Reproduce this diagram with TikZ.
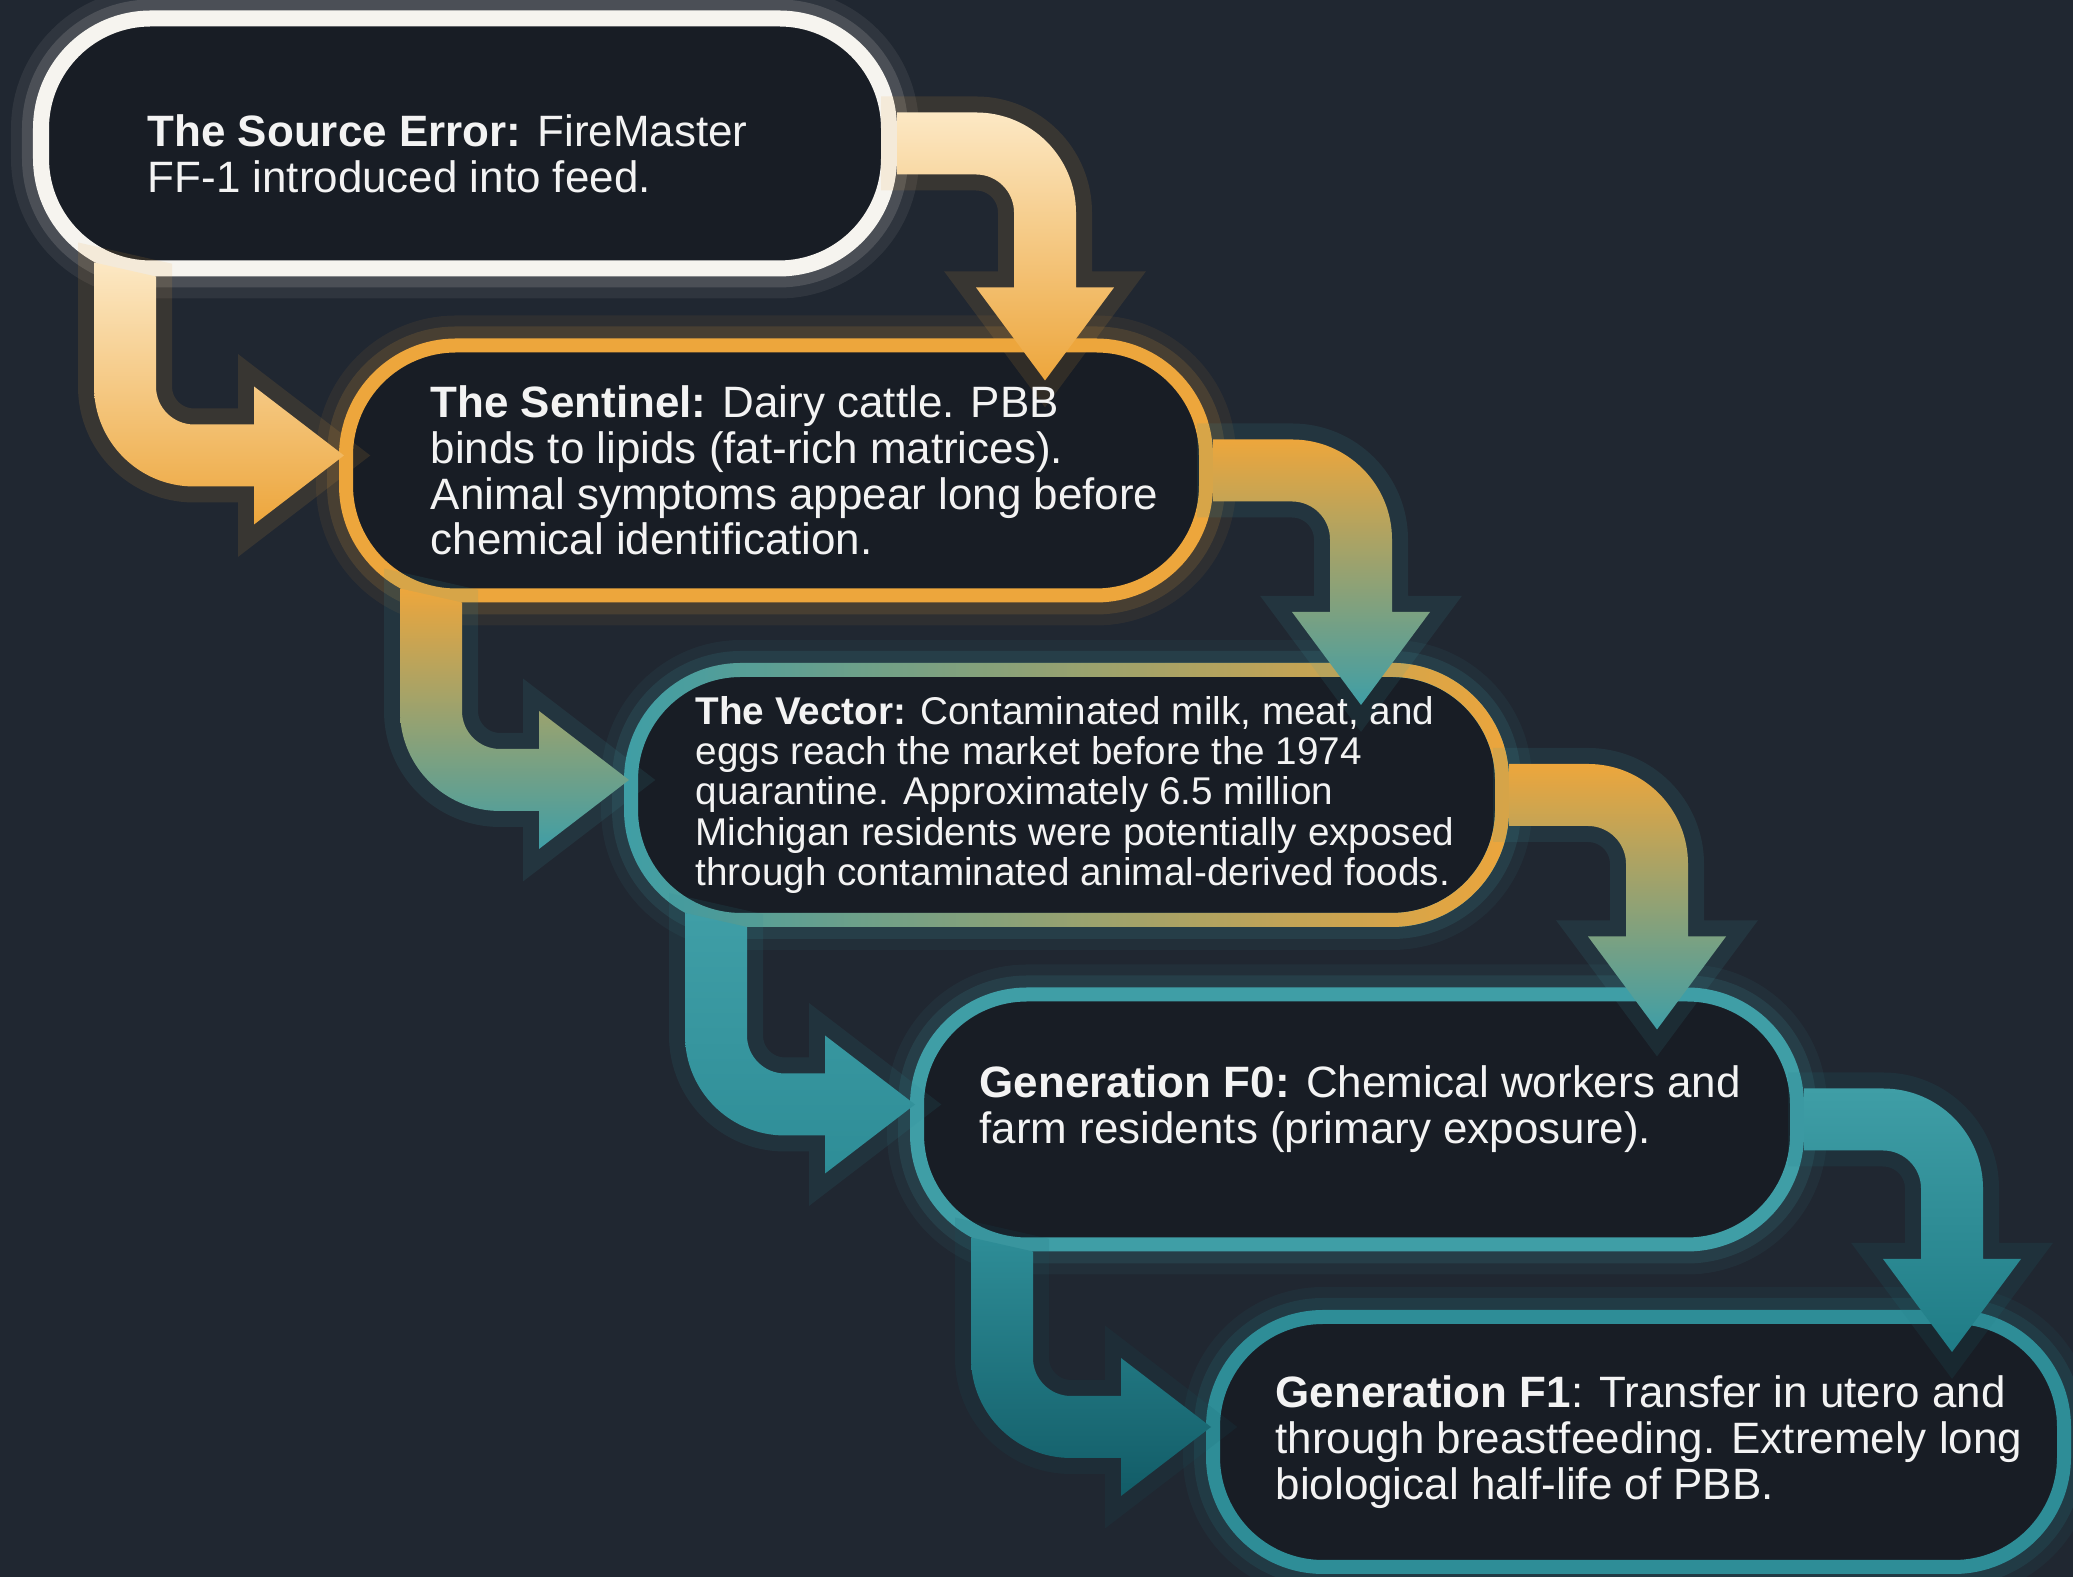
\documentclass[tikz,border=0pt]{standalone}
\usepackage{fontspec}
\setmainfont{Liberation Sans}
\usetikzlibrary{
  calc,
  fadings,
  positioning,
}
\definecolor{slate}{HTML}{202731}
\definecolor{pod}{HTML}{181D25}
\definecolor{chalk}{HTML}{F6F4EF}
\definecolor{cream}{HTML}{FCE8C4}
\definecolor{amber}{HTML}{EDA63C}
\definecolor{lagoon}{HTML}{3F9EA6}
\definecolor{reef}{HTML}{2E8D97}
\definecolor{deeplagoon}{HTML}{1F7C86}
\definecolor{abyss}{HTML}{125C67}
\definecolor{ink}{HTML}{F3F3F3}
\tikzset{
  stage/.style={draw=#1, fill=pod, line width=0.14cm, rounded corners=1.1cm,
    minimum height=2.5cm,
    preaction={draw=#1, line width=0.6cm, opacity=0.07},
    preaction={draw=#1, line width=0.38cm, opacity=0.14}},
  blurb/.style={inner sep=0pt, align=left, text=ink,
    font=\fontsize{12.5}{13}\selectfont},
  flow/.style 2 args={top color=#1, bottom color=#2, line join=round,
    preaction={draw=#2, line width=0.32cm, opacity=0.12}},
}
\newcommand{\bandhalf}{0.31cm}
\newcommand{\headhalf}{0.69cm}
\newcommand{\outrad}{1cm}
\newcommand{\inrad}{0.38cm}
\newcommand{\flowright}[4]{%
  \shade [flow={#3}{#4}] let \p1=(#1.east), \p2=(#2.north),
      \n1={\x1+1.48cm}, \n2={\y2-0.42cm}, \n3={\y2+0.51cm} in
    (\x1, {\y1+\bandhalf}) -- ({\n1+\bandhalf-\outrad}, {\y1+\bandhalf})
    .. controls ({\n1+\bandhalf-0.448*\outrad}, {\y1+\bandhalf}) and ({\n1+\bandhalf}, {\y1+\bandhalf-0.448*\outrad}) .. ({\n1+\bandhalf}, {\y1+\bandhalf-\outrad})
    -- ({\n1+\bandhalf}, \n3) -- ({\n1+\headhalf}, \n3) -- (\n1, \n2)
    -- ({\n1-\headhalf}, \n3) -- ({\n1-\bandhalf}, \n3)
    -- ({\n1-\bandhalf}, {\y1-\bandhalf-\inrad})
    .. controls ({\n1-\bandhalf}, {\y1-\bandhalf-0.448*\inrad}) and ({\n1-\bandhalf-0.448*\inrad}, {\y1-\bandhalf}) .. ({\n1-\bandhalf-\inrad}, {\y1-\bandhalf})
    -- (\x1, {\y1-\bandhalf}) -- cycle;
}
\newcommand{\flowleft}[4]{%
  \shade [flow={#3}{#4}] let \p1=(#1.south west), \p2=(#2.west),
      \n1={\x1+0.92cm}, \n2={\y2+0.15cm}, \n3={\x2-0.85cm} in
    ({\n1-\bandhalf}, {\y1+0.14cm}) -- ({\n1-\bandhalf}, {\n2-\bandhalf+\outrad})
    .. controls ({\n1-\bandhalf}, {\n2-\bandhalf+0.448*\outrad}) and ({\n1-\bandhalf+0.448*\outrad}, {\n2-\bandhalf}) .. ({\n1-\bandhalf+\outrad}, {\n2-\bandhalf})
    -- (\n3, {\n2-\bandhalf}) -- (\n3, {\n2-\headhalf}) -- ({\x2+0.05cm}, \n2)
    -- (\n3, {\n2+\headhalf}) -- (\n3, {\n2+\bandhalf})
    -- ({\n1+\bandhalf+\inrad}, {\n2+\bandhalf})
    .. controls ({\n1+\bandhalf+0.448*\inrad}, {\n2+\bandhalf}) and ({\n1+\bandhalf}, {\n2+\bandhalf+0.448*\inrad}) .. ({\n1+\bandhalf}, {\n2+\bandhalf+\inrad})
    -- ({\n1+\bandhalf}, \y1) -- cycle;
}

\begin{document}
\begin{tikzpicture}
  \fill [slate] (0, 0) rectangle (20.73, 15.77);
  \useasboundingbox (0, 0) rectangle (20.73, 15.77);

  \node [stage=chalk, line width=0.16cm, minimum width=8.48cm] (source) at (4.65, 14.335) {};
  \node [stage=amber, minimum width=8.60cm] (sentinel) at (7.76, 11.065) {};
  \node [stage=lagoon, minimum width=8.71cm,
    postaction={draw=amber, line width=0.14cm, path fading=west}] (vector) at (10.665, 7.82) {};
  \node [stage=lagoon, minimum width=8.80cm] (genzero) at (13.57, 4.575) {};
  \node [stage=reef, minimum width=8.51cm] (genone) at (16.385, 1.35) {};

  \flowright{source}{sentinel}{cream}{amber}
  \flowleft{source}{sentinel}{cream}{amber}
  \flowright{sentinel}{vector}{amber}{lagoon}
  \flowleft{sentinel}{vector}{amber}{lagoon}
  \flowright{vector}{genzero}{amber}{lagoon}
  \flowleft{vector}{genzero}{lagoon}{reef}
  \flowright{genzero}{genone}{lagoon}{deeplagoon}
  \flowleft{genzero}{genone}{reef}{abyss}

  \node [blurb, right=1.14cm of source.west, yshift=-0.1cm] (sourcetext)
    {\textbf{The Source Error:} FireMaster\\FF-1 introduced into feed.};
  \node [blurb, right=0.91cm of sentinel.west] (sentineltext)
    {\textbf{The Sentinel:} Dairy cattle. PBB\\binds to lipids (fat-rich matrices).\\Animal symptoms appear long before\\chemical identification.};
  \node [blurb, font=\fontsize{11}{11.4}\selectfont, right=0.71cm of vector.west] (vectortext)
    {\textbf{The Vector:} Contaminated milk, meat, and\\eggs reach the market before the 1974\\quarantine. Approximately 6.5 million\\Michigan residents were potentially exposed\\through contaminated animal-derived foods.};
  \node [blurb, right=0.69cm of genzero.west, yshift=0.1cm] (genzerotext)
    {\textbf{Generation F0:} Chemical workers and\\farm residents (primary exposure).};
  \node [blurb, right=0.69cm of genone.west] (genonetext)
    {\textbf{Generation F1}: Transfer in utero and\\through breastfeeding. Extremely long\\biological half-life of PBB.};
\end{tikzpicture}
\end{document}
